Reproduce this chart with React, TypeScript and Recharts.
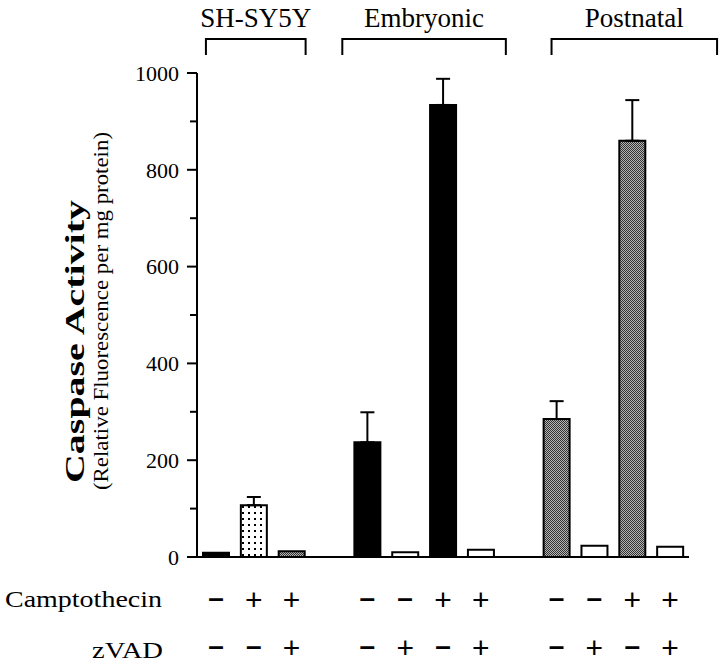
import { BarChart, Bar, XAxis, YAxis, Cell, ErrorBar } from 'recharts'

// 13 slots: 11 bars and two empty gaps between the cell groups
const categories = [
  'SH ctrl', 'SH CPT', 'SH CPT+zVAD', 'gap1',
  'Emb ctrl', 'Emb zVAD', 'Emb CPT', 'Emb CPT+zVAD', 'gap2',
  'Post ctrl', 'Post zVAD', 'Post CPT', 'Post CPT+zVAD',
]
const activity = [9, 107, 12, null, 237, 10, 934, 15, null, 285, 23, 860, 21]
const errorUp = [null, 17, null, null, 62, null, 54, null, null, 37, null, 84, null]
const camptothecin = ['-', '+', '+', '', '-', '-', '+', '+', '', '-', '-', '+', '+']
const zvad = ['-', '-', '+', '', '-', '+', '-', '+', '', '-', '+', '-', '+']
const groups = ['SH-SY5Y', 'Embryonic', 'Postnatal']
const groupFirst = [0, 4, 9]
const groupLast = [2, 7, 12]
const yTicks = [0, 100, 200, 300, 400, 500, 600, 700, 800, 900, 1000]

const W = 720
const H = 664
const PLOT_LEFT = 197
const RIGHT = 31
const SLOT = (W - PLOT_LEFT - RIGHT) / categories.length
const BRACKET_PAD = [[-10, 14], [-25, 25], [-5, 47]]
const BAR_FILLS = ['#000', 'url(#dots)', 'url(#hatch)', 'none', '#000', '#fff', '#000', '#fff', 'none', 'url(#hatch)', '#fff', 'url(#hatch)', '#fff']

const SERIF = '"Liberation Serif", "Times New Roman", serif'
const SANS = '"Liberation Sans", Arial, sans-serif'

const rows = categories.map((name, i) => ({
  name,
  activity: activity[i],
  err: errorUp[i] == null ? null : [0, errorUp[i]],
}))

function YTick(props: any) {
  const { x, y, payload } = props
  const major = payload.value % 200 === 0
  return (
    <g>
      <line x1={x - (major ? 10 : 7)} x2={x} y1={y} y2={y} stroke="#000" strokeWidth={2} />
      {major && (
        <text x={x - 18} y={y} dy="0.35em" textAnchor="end" fontFamily={SERIF} fontSize={22} fill="#000">
          {payload.value}
        </text>
      )}
    </g>
  )
}

function GroupTick(props: any) {
  const { x, y, index } = props
  const g = groupFirst.indexOf(index)
  if (g < 0) return <g />
  const x0 = x + BRACKET_PAD[g][0]
  const x1 = x + (groupLast[g] - groupFirst[g]) * SLOT + BRACKET_PAD[g][1]
  return (
    <g>
      <path d={`M${x0},${y - 18} V${y - 34} H${x1} V${y - 18}`} fill="none" stroke="#000" strokeWidth={2} />
      <text x={(x0 + x1) / 2} y={y - 46} textAnchor="middle" fontFamily={SERIF} fontSize={27} fill="#000">
        {groups[g]}
      </text>
    </g>
  )
}

function SignTick(props: any) {
  const { x, y, index, signs, dy } = props
  const s = signs[index]
  if (!s) return <g />
  const minus = s === '-'
  return (
    <text
      x={x}
      y={y + dy - (minus ? 2 : 0)}
      dominantBaseline="central"
      textAnchor="middle"
      fontFamily={SANS}
      fontWeight={minus ? 'bold' : 'normal'}
      fontSize={minus ? 28 : 30}
      fill="#000"
    >
      {minus ? '\u2013' : '+'}
    </text>
  )
}

function RowLabel(props: any) {
  const { viewBox, text, dy, right, len } = props
  return (
    <text x={right} y={viewBox.y + dy} textAnchor="end" fontFamily={SERIF} fontSize={24} fill="#000"
      textLength={len} lengthAdjust="spacingAndGlyphs">
      {text}
    </text>
  )
}

function YTitle() {
  return (
    <g>
      <text transform="translate(84,341.5) rotate(-90)" textAnchor="middle" fontFamily={SERIF}
        fontWeight="bold" fontSize={28} fill="#000" textLength={283} lengthAdjust="spacingAndGlyphs">
        Caspase Activity
      </text>
      <text transform="translate(108,311) rotate(-90)" textAnchor="middle" fontFamily={SERIF}
        fontSize={21} fill="#000" textLength={358} lengthAdjust="spacingAndGlyphs">
        (Relative Fluorescence per mg protein)
      </text>
    </g>
  )
}

export default function App() {
  return (
    <div style={{ position: 'absolute', left: 0, top: 0, background: '#fff' }}>
      <BarChart width={W} height={H} data={rows} margin={{ top: 0, right: RIGHT, bottom: 0, left: 0 }} barSize={26}>
        <defs>
          <pattern id="dots" width={6} height={6} patternUnits="userSpaceOnUse">
            <rect width={6} height={6} fill="#fff" />
            <rect x={2} y={2} width={2} height={2} fill="#000" />
          </pattern>
          <pattern id="hatch" width={2} height={2} patternUnits="userSpaceOnUse">
            <rect width={2} height={2} fill="#b4b4b4" />
            <rect x={0} y={0} width={1} height={1} fill="#333" />
            <rect x={1} y={1} width={1} height={1} fill="#333" />
          </pattern>
        </defs>
        <XAxis xAxisId="top" orientation="top" dataKey="name" height={73} axisLine={false} tickLine={false}
          tickSize={0} tickMargin={0} interval={0} tick={<GroupTick />} />
        <XAxis xAxisId="camp" dataKey="name" height={66} axisLine={{ stroke: '#000', strokeWidth: 2 }}
          tickLine={false} tickSize={0} tickMargin={0} interval={0}
          tick={<SignTick signs={camptothecin} dy={42.5} />}
          label={<RowLabel text="Camptothecin" dy={50} right={162} len={157} />} />
        <XAxis xAxisId="zvad" dataKey="name" height={41} axisLine={false}
          tickLine={false} tickSize={0} tickMargin={0} interval={0}
          tick={<SignTick signs={zvad} dy={24.5} />}
          label={<RowLabel text="zVAD" dy={35} right={163} len={71} />} />
        <YAxis width={PLOT_LEFT} domain={[0, 1000]} ticks={yTicks} interval={0}
          axisLine={{ stroke: '#000', strokeWidth: 2 }} tickLine={false} tickSize={0} tickMargin={0}
          tick={<YTick />} label={<YTitle />} />
        <Bar xAxisId="camp" dataKey="activity" stroke="#000" strokeWidth={2} isAnimationActive={false}>
          {rows.map((r, i) => (
            <Cell key={r.name} fill={BAR_FILLS[i]} />
          ))}
          <ErrorBar dataKey="err" width={7} stroke="#000" strokeWidth={2} direction="y" />
        </Bar>
      </BarChart>
    </div>
  )
}
